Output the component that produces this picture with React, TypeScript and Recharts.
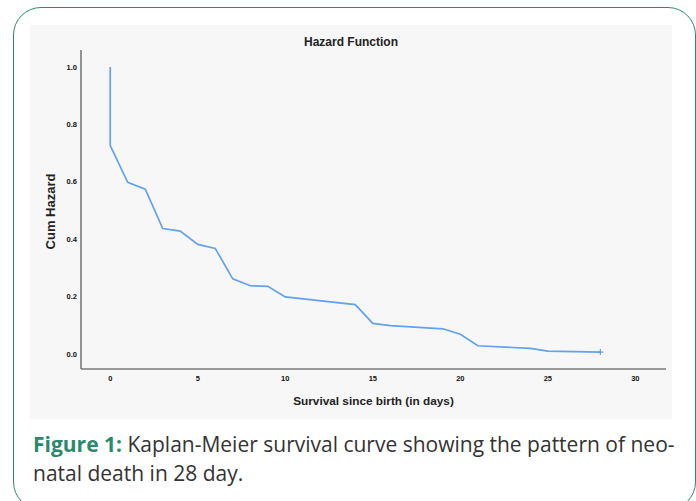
import { LineChart, Line, XAxis, YAxis } from 'recharts';

// Kaplan-Meier cumulative hazard
const days = [0, 0, 1, 2, 3, 4, 5, 6, 7, 8, 9, 10, 14, 15, 16, 19, 20, 21, 24, 25, 28];
const cumHazard = [1.0, 0.726, 0.598, 0.574, 0.437, 0.428, 0.382, 0.368, 0.262, 0.238, 0.236, 0.199, 0.172, 0.107, 0.099, 0.088, 0.069, 0.029, 0.02, 0.01, 0.007];
const censored = [false, false, false, false, false, false, false, false, false, false, false, false, false, false, false, false, false, false, false, false, true];

const xTicks = [0, 5, 10, 15, 20, 25, 30];
const yTicks = [0, 0.2, 0.4, 0.6, 0.8, 1.0];

const data = days.map((d, i) => ({ day: d, hazard: cumHazard[i], censored: censored[i] }));

const GREEN = '#2b8a6c';
const LINE = '#62a2ee';
const AXIS = '#7a7a7a';
const FONT = 'Arial, "Liberation Sans", sans-serif';

const tickStyle = { fill: '#111', fontSize: 7.5, fontWeight: 700, fontFamily: FONT };

function CensorDot(props: any) {
  const { cx, cy, payload, index } = props;
  if (!payload || !payload.censored) return <g key={index} />;
  return (
    <path
      key={index}
      d={`M${cx - 3},${cy}H${cx + 3}M${cx},${cy - 3}V${cy + 3}`}
      stroke={LINE}
      strokeWidth={1.2}
      fill="none"
    />
  );
}

export default function App() {
  return (
    <div style={{ position: 'absolute', left: 0, top: 0, width: 696, height: 501, overflow: 'hidden', background: '#fff' }}>
      <div
        style={{
          position: 'absolute', left: 13, top: 7, width: 683, height: 503,
          border: `1.5px solid ${GREEN}`, borderRadius: 28, boxSizing: 'border-box',
        }}
      />
      <div style={{ position: 'absolute', left: 30, top: 25, width: 642, height: 394, background: '#f7f7f7' }} />
      <div style={{ position: 'absolute', left: 30, top: 25 }}>
        <LineChart width={642} height={394} data={data} margin={{ top: 25, right: 6, bottom: 0, left: 0 }}>
          <XAxis
            dataKey="day"
            type="number"
            domain={[-1.67, 31.75]}
            ticks={xTicks}
            allowDataOverflow
            height={50}
            tickLine={false}
            tickSize={0}
            tickMargin={7}
            axisLine={{ stroke: AXIS, strokeWidth: 1.6 }}
            tick={tickStyle}
            interval={0}
          />
          <YAxis
            type="number"
            domain={[-0.052, 1.059]}
            ticks={yTicks}
            allowDataOverflow
            width={51}
            tickLine={false}
            tickSize={0}
            tickMargin={4}
            axisLine={{ stroke: AXIS, strokeWidth: 1.6 }}
            tick={tickStyle}
            tickFormatter={(v: number) => v.toFixed(1)}
            interval={0}
          />
          <Line
            type="linear"
            dataKey="hazard"
            stroke={LINE}
            strokeWidth={1.7}
            dot={CensorDot}
            activeDot={false}
            isAnimationActive={false}
          />
        </LineChart>
      </div>
      <svg width={696} height={501} style={{ position: 'absolute', left: 0, top: 0, pointerEvents: 'none' }}>
        <text x={351} y={46} textAnchor="middle" fontFamily={FONT} fontSize={12} fontWeight={700} fill="#222">
          Hazard Function
        </text>
        <text x={373.5} y={405} textAnchor="middle" fontFamily={FONT} fontSize={11.8} fontWeight={700} fill="#222">
          Survival since birth (in days)
        </text>
        <text
          x={55}
          y={211.5}
          textAnchor="middle"
          transform="rotate(-90 55 211.5)"
          fontFamily={FONT}
          fontSize={13}
          fontWeight={700}
          fill="#222"
        >
          Cum Hazard
        </text>
      </svg>
      <div
        style={{
          position: 'absolute', left: 33, top: 429.7, width: 660,
          fontFamily: '"Open Sans", sans-serif', fontSize: 21, lineHeight: '29.6px', color: '#333',
          whiteSpace: 'nowrap',
        }}
      >
        <span style={{ color: GREEN, fontWeight: 700 }}>Figure 1:</span> Kaplan-Meier survival curve showing the pattern of neo-
        <br />
        natal death in 28 day.
      </div>
    </div>
  );
}
